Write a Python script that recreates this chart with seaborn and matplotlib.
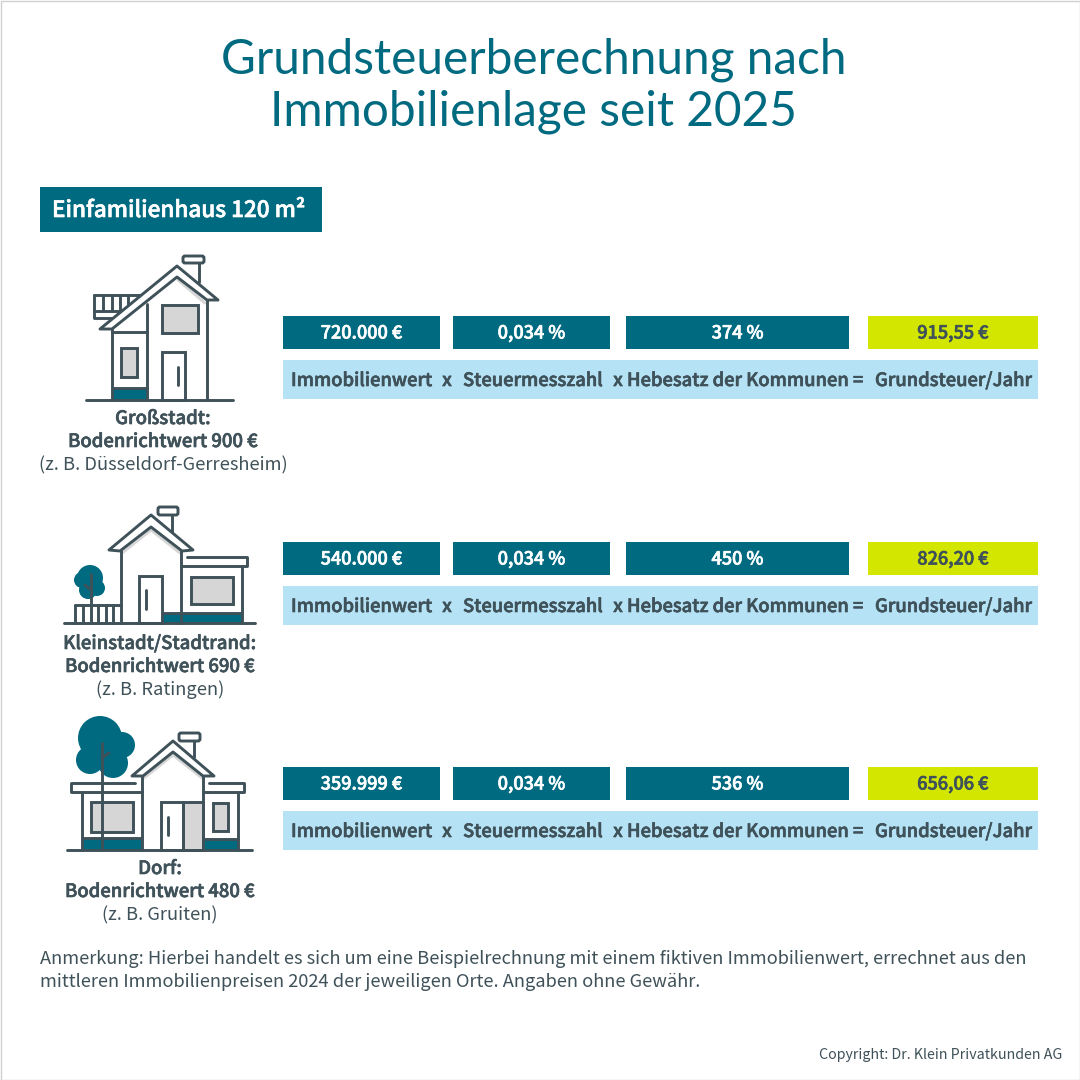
import matplotlib
matplotlib.use("Agg")
import matplotlib.pyplot as plt
from matplotlib.patches import Circle, FancyBboxPatch, Polygon, Rectangle
import matplotlib.patheffects as pe
import seaborn as sns

# Values
places = ["Großstadt:", "Kleinstadt/Stadtrand:", "Dorf:"]
land_values = ["Bodenrichtwert 900 €", "Bodenrichtwert 690 €", "Bodenrichtwert 480 €"]
examples = ["(z. B. Düsseldorf-Gerresheim)", "(z. B. Ratingen)", "(z. B. Gruiten)"]
property_values = ["720.000 €", "540.000 €", "359.999 €"]
tax_rates = ["0,034 %", "0,034 %", "0,034 %"]
multipliers = ["374 %", "450 %", "536 %"]
taxes = ["915,55 €", "826,20 €", "656,06 €"]
terms = ["Immobilienwert", "x", "Steuermesszahl", "x", "Hebesatz der Kommunen =", "Grundsteuer/Jahr"]

title_lines = ["Grundsteuerberechnung nach", "Immobilienlage seit 2025"]
header = "Einfamilienhaus 120 m²"
note_lines = [
    "Anmerkung: Hierbei handelt es sich um eine Beispielrechnung mit einem fiktiven Immobilienwert, errechnet aus den",
    "mittleren Immobilienpreisen 2024 der jeweiligen Orte. Angaben ohne Gewähr.",
]
copyright_text = "Copyright: Dr. Klein Privatkunden AG"

TEAL = "#006A80"
LIME = "#D2E600"
SKY = "#B5E2F5"
DARK = "#3F5159"
GREY = "#D6D6D6"
LW = 2.1

sns.set_theme(style="white")
plt.rcParams["font.family"] = ["Noto Sans CJK JP", "DejaVu Sans"]

fig = plt.figure(figsize=(10.8, 10.8), dpi=100)
ax = fig.add_axes([0, 0, 1, 1])


def box(x0, x1, y0, y1, color):
    # one horizontal bar per box, the axes run in pixels
    sns.barplot(x=[x1 - x0], y=[(y0 + y1) / 2], orient="y", native_scale=True,
                width=y1 - y0, color=color, saturation=1, left=x0, linewidth=0, ax=ax)


def semi(x, y, text, color=DARK, size=13.2, ha="left"):
    # the font has no semibold cut, a thin outline gets close
    ax.text(x, y, text, ha=ha, va="baseline", color=color, fontsize=size, fontweight="medium", zorder=6,
            path_effects=[pe.withStroke(linewidth=0.45, foreground=color)])


def line(*pts, lw=LW):
    ax.plot([p[0] for p in pts], [p[1] for p in pts], color=DARK, lw=lw,
            solid_capstyle="round", solid_joinstyle="round", zorder=4)


def shade(*pts):
    ax.plot([p[0] for p in pts], [p[1] for p in pts], color=GREY, lw=LW, zorder=1)


def rect(x0, y0, x1, y1, fill="none", z=3):
    ax.add_patch(Rectangle((x0, y0), x1 - x0, y1 - y0, fc=fill, ec=DARK, lw=LW, zorder=z))


def cap(x0, y0, x1, y1):
    ax.add_patch(FancyBboxPatch((x0 + 2, y0 + 2), x1 - x0 - 4, y1 - y0 - 4, boxstyle="round,pad=2",
                                fc="white", ec=DARK, lw=LW, zorder=4))


def roof(pts):
    ax.add_patch(Polygon(pts, closed=True, fc="white", ec=DARK, lw=LW, joinstyle="round", zorder=5))


def teal(x0, y0, x1, y1):
    ax.add_patch(Rectangle((x0, y0), x1 - x0, y1 - y0, fc=TEAL, ec="none", zorder=2))


def tree(blobs):
    for cx, cy, r in blobs:
        ax.add_patch(Circle((cx, cy), r, fc=TEAL, ec="none", zorder=2))


def house_city():
    teal(112, 388, 147, 400)
    line((94, 295), (140, 295))
    line((94, 295), (94, 318), (115, 318))
    line((94, 311), (123, 311))
    for x in [103, 112, 120, 128]:
        line((x, 295), (x, 311))
    line((199, 263), (199, 282))
    cap(183, 256, 204, 263)
    roof([(177, 266), (218, 300), (207, 300), (177, 277), (112, 329), (100, 329)])
    shade((178, 280), (205, 303))
    line((207, 300), (207, 400))
    line((147, 304), (147, 400))
    line((112, 329), (112, 400))
    line((112, 332), (147, 332))
    line((112, 388), (147, 388))
    rect(162, 305, 198, 333, GREY)
    rect(121, 348, 137, 377, GREY)
    rect(162, 352, 185, 400)
    line((178, 367), (178, 385))
    line((86, 400), (233, 400))


def house_town():
    tree([(90, 578, 13), (82, 580, 8), (97, 588, 8), (88, 590, 9)])
    line((91, 574), (91, 623))
    line((91, 590), (85, 585))
    line((75, 605), (121, 605))
    for x in [75, 83, 98, 106, 113]:
        line((x, 605), (x, 623))
    teal(163, 614, 242, 623)
    line((172, 515), (172, 532))
    cap(158, 507, 178, 515)
    roof([(151, 515), (193, 550), (182, 551), (151, 527), (120, 551), (109, 550)])
    shade((151, 530), (122, 553))
    shade((151, 530), (180, 553))
    line((121, 551), (121, 623))
    line((181, 551), (181, 623))
    rect(139, 576, 162, 623)
    line((146, 590), (146, 609))
    line((187, 557), (247, 557), (247, 566), (181, 566))
    line((242, 566), (242, 623))
    rect(191, 577, 233, 604, GREY)
    line((163, 613), (242, 613))
    line((64, 623), (255, 623))


def house_village():
    tree([(100, 738, 22), (122, 745, 13), (90, 760, 14), (113, 763, 15), (102, 750, 17)])
    teal(82, 838, 142, 850)
    teal(203, 839, 238, 850)
    line((194, 741), (194, 757))
    cap(179, 733, 200, 741)
    roof([(173, 741), (214, 776), (203, 776), (173, 752), (143, 776), (132, 776)])
    shade((173, 755), (144, 778))
    shade((173, 755), (202, 778))
    line((142, 776), (142, 850))
    line((203, 776), (203, 850))
    rect(183, 802, 203, 850, GREY)
    rect(161, 802, 183, 850)
    line((168, 817), (168, 835))
    line((135, 783), (71, 783), (71, 792), (142, 792))
    line((82, 792), (82, 850))
    rect(91, 802, 133, 832, GREY)
    line((82, 838), (142, 838))
    line((209, 783), (244, 783), (244, 792), (203, 792))
    line((238, 792), (238, 850))
    rect(213, 803, 228, 831, GREY)
    line((203, 839), (238, 839))
    line((102, 743), (102, 850))
    line((102, 758), (109, 753))
    line((67, 850), (252, 850))


# title and header
for text, y in zip(title_lines, [74, 126]):
    ax.text(534, y, text, ha="center", va="baseline", color=TEAL, fontsize=34.4, family="Lato")
box(40, 322, 187, 232, TEAL)
semi(52, 217, header, color="white", size=16.2)

# three rows of boxes and labels
row_tops = [316, 542, 767]
label_x = [163, 160, 160]
label_y = [424, 649, 874]
columns = [(283, 440), (453, 610), (626, 849), (868, 1038)]
term_x = [291, 447, 463, 618, 627, 875]
term_ha = ["left", "center", "left", "center", "left", "left"]

for i, top in enumerate(row_tops):
    cells = [property_values[i], tax_rates[i], multipliers[i], taxes[i]]
    for j, ((x0, x1), cell) in enumerate(zip(columns, cells)):
        box(x0, x1, top, top + 33, LIME if j == 3 else TEAL)
        semi((x0 + x1) / 2, top + 22.5, cell, color=DARK if j == 3 else "white", size=13, ha="center")
    box(283, 1038, top + 44, top + 83, SKY)
    for x, ha, term in zip(term_x, term_ha, terms):
        semi(x, top + 70, term, ha=ha)
    semi(label_x[i], label_y[i], places[i], size=13.3, ha="center")
    semi(label_x[i], label_y[i] + 23, land_values[i], size=13.3, ha="center")
    ax.text(label_x[i], label_y[i] + 46, examples[i], ha="center", va="baseline", color=DARK,
            fontsize=13.2)

house_city()
house_town()
house_village()

# note and copyright
for text, y in zip(note_lines, [964, 987]):
    ax.text(40, y, text, ha="left", va="baseline", color=DARK, fontsize=13.16)
ax.text(1062, 1059, copyright_text, ha="right", va="baseline", color=DARK, fontsize=10.25)

# thin frame around the picture
ax.add_patch(Rectangle((0.5, 0.5), 1079, 1079, fc="none", ec="#D0D0D0", lw=1, zorder=7))

ax.set_xlim(0, 1080)
ax.set_ylim(1080, 0)
ax.set_xlabel("")
ax.set_ylabel("")
ax.set_axis_off()
fig.savefig("out.png", dpi=100, facecolor="white")
